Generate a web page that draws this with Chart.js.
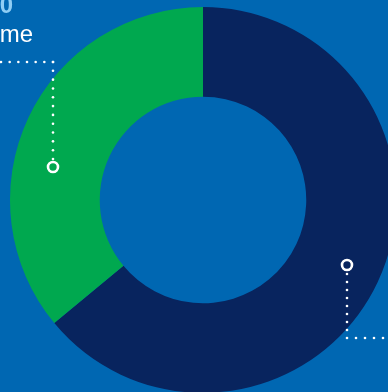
<!DOCTYPE html>
<html>
<head>
<meta charset="utf-8">
<script src="https://cdn.jsdelivr.net/npm/chart.js@4/dist/chart.umd.min.js"></script>
<style>
  html, body { margin: 0; padding: 0; background: #0067b2; overflow: hidden; width: 388px; height: 392px; }
  #wrap { position: absolute; left: 0; top: 0; width: 406px; height: 400px; }
</style>
</head>
<body>
<div id="wrap"><canvas id="c" width="406" height="400"></canvas></div>
<script>
const categories = ["Expenses", "Income"];
const values = [64, 36];
const valueLabels = ["$6,400", "$3,600"];
const colors = ["#08245e", "#00a84f"];

const annotations = {
  id: 'annotations',
  afterDraw(chart) {
    const ctx = chart.ctx;
    ctx.save();
    ctx.textAlign = 'right';
    ctx.textBaseline = 'alphabetic';
    ctx.fillStyle = '#8fcdf4';
    ctx.font = 'bold 24px "Liberation Sans", Arial, sans-serif';
    ctx.fillText(valueLabels[1], 13, 13);
    ctx.fillStyle = '#ffffff';
    ctx.font = '24px "Liberation Sans", Arial, sans-serif';
    ctx.fillText(categories[1], 33, 42);

    ctx.strokeStyle = '#ffffff';
    ctx.fillStyle = '#ffffff';
    function dots(x1, y1, x2, y2) {
      const len = Math.hypot(x2 - x1, y2 - y1);
      const n = Math.round(len / 8.5);
      for (let i = 0; i <= n; i++) {
        const t = i / n;
        ctx.beginPath();
        ctx.arc(x1 + (x2 - x1) * t, y1 + (y2 - y1) * t, 1.3, 0, Math.PI * 2);
        ctx.fill();
      }
    }
    dots(1, 62, 53, 62);
    dots(53, 62, 53, 159);
    ctx.lineWidth = 2.6;
    ctx.beginPath(); ctx.arc(53, 167, 5, 0, Math.PI * 2); ctx.stroke();
    ctx.beginPath(); ctx.arc(347, 265, 5, 0, Math.PI * 2); ctx.stroke();
    dots(347, 274, 347, 330);
    dots(347, 338, 392, 338);
    ctx.restore();
  }
};

new Chart(document.getElementById('c'), {
  type: 'doughnut',
  data: {
    labels: categories,
    datasets: [{
      data: values,
      backgroundColor: colors,
      borderWidth: 0,
      hoverOffset: 0
    }]
  },
  options: {
    responsive: false,
    animation: false,
    cutout: '53.5%',
    layout: { padding: { left: 10, top: 7, right: 10, bottom: 7 } },
    plugins: { legend: { display: false }, tooltip: { enabled: false } }
  },
  plugins: [annotations]
});
</script>
</body>
</html>
